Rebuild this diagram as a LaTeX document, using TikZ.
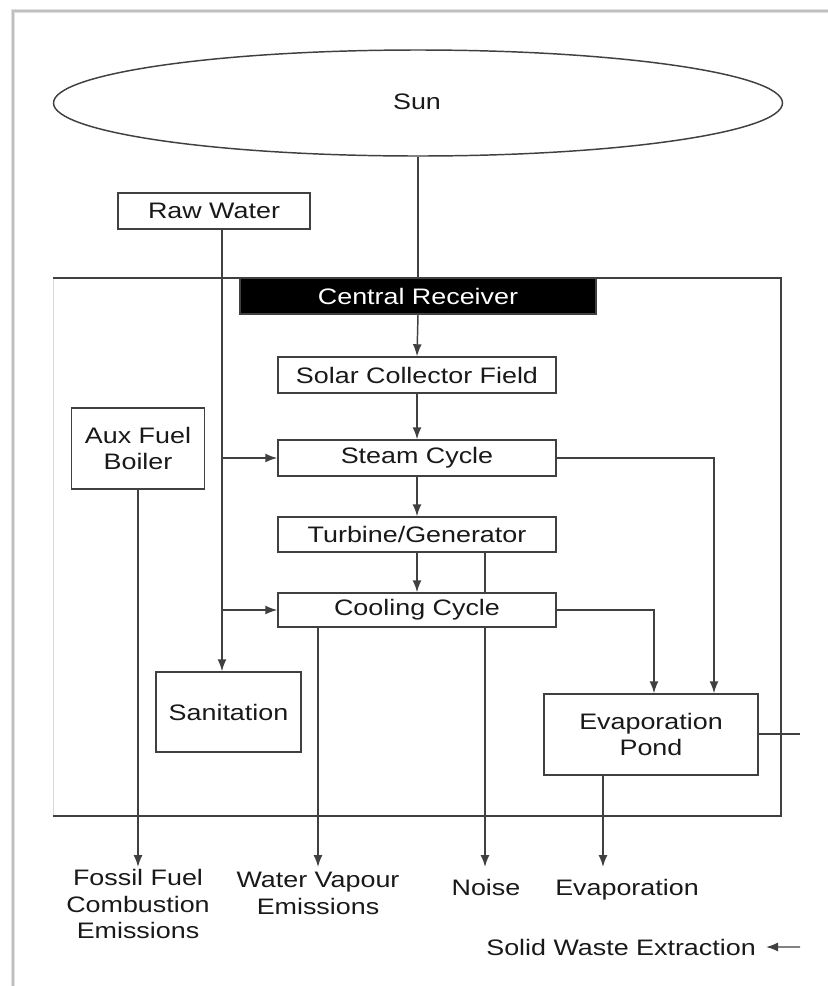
\documentclass[tikz,border=0pt]{standalone}
\usepackage{fontspec}
\setmainfont{Liberation Sans}[FakeStretch=1.2]
\usetikzlibrary{positioning}
\usetikzlibrary{calc}
\usetikzlibrary{arrows.meta,shapes.geometric}

\begin{document}
\begin{tikzpicture}[x=0.75pt,y=-0.75pt,
  every node/.style={font=\fontsize{16.8}{19.9}\selectfont,text=black!90},
  box/.style={draw=black!75,line width=1.1pt,fill=white,inner sep=0pt,align=center},
  flow/.style={draw=black!75,line width=1.1pt},
  arr/.style={flow,-{Latex[length=9pt,width=6.75pt]}},
  outtext/.style={align=center,inner sep=0pt}]

\useasboundingbox (0,0) rectangle (828,986);

% page edge
\draw[gray!25,line width=3pt] (13,986) -- (13,11) -- (828,11);
\draw[gray!50,line width=1pt] (13,986) -- (13,11) -- (828,11);

% plant border
\draw[gray!30,line width=0.6pt] (53,278) -- (53,816);
\draw[flow] (53,278) -- (781,278) -- (781,816) -- (53,816);

% sun
\node[ellipse,draw=black!75,line width=1.1pt,inner sep=0pt,
      minimum width=546.75pt,minimum height=79.5pt] (sun) at (418,103) {};
\node at (417,102) {Sun};

% boxes
\node[box,minimum width=144pt,minimum height=27pt] (raw) at (214,211) {Raw Water};
\node[box,fill=black,text=white,minimum width=267pt,minimum height=27pt] (recv) at (418,296) {Central Receiver};
\node[box,minimum width=208.5pt,minimum height=27pt] (solar) at (417,375) {Solar Collector Field};
\node[box,minimum width=208.5pt,minimum height=27pt] (steam) at (417,458) {Steam Cycle};
\node[box,minimum width=208.5pt,minimum height=26.25pt] (turb) at (417,534.5) {Turbine/Generator};
\node[box,minimum width=208.5pt,minimum height=25.5pt] (cool) at (417,610) {Cooling Cycle};
\node[box,minimum width=99.75pt,minimum height=60.75pt] (aux) at (138,448.5) {Aux Fuel\\Boiler};
\node[box,minimum width=108.75pt,minimum height=60pt] (san) at (228.5,712) {Sanitation};
\node[box,minimum width=160.5pt,minimum height=60.75pt] (pond) at (651,734.5) {Evaporation\\Pond};

% outputs
\node[outtext,anchor=north] (fossil) at (138,869) {Fossil Fuel\\Combustion\\Emissions};
\node[outtext,anchor=north] (vapour) at (318,872) {Water Vapour\\Emissions};
\node[outtext,anchor=base] (noise) at (486,895) {Noise};
\node[outtext,anchor=base] (evap) at (627,895) {Evaporation};
\node[outtext,anchor=base east,inner xsep=7.5pt] (waste) at (766,955) {Solid Waste Extraction};

\coordinate (tips) at (0,867);
\coordinate (tap) at (222,229);
\coordinate (exit) at (800,734);
\coordinate (wastein) at (800,947);

% flows
\draw[flow] (sun.south) -- (recv.north);
\foreach \a/\b in {recv/solar,solar/steam,steam/turb,turb/cool}
  \draw[arr] (\a.south) -- (\b.north);

\draw[arr] (tap) -- (tap |- san.north);
\draw[arr] (tap |- steam.west) -- (steam.west);
\draw[arr] (tap |- cool.west) -- (cool.west);

\draw[arr] (aux.south) -- (aux.south |- tips);
\draw[arr] (cool.south -| vapour) -- (vapour.south |- tips);
\draw[flow] (turb.south -| 485,0) -- (cool.north -| 485,0);
\draw[arr] (cool.south -| 485,0) -- (tips -| 485,0);

\draw[arr] (steam.east) -| ([xshift=47.25pt]pond.north);
\draw[arr] (cool.east) -| ([xshift=2.25pt]pond.north);
\draw[arr] ([xshift=-36pt]pond.south) -- ([xshift=-36pt]pond.south |- tips);
\draw[flow] (pond.east |- exit) -- (exit);
\draw[arr] (wastein) -- (waste.east);

\end{tikzpicture}
\end{document}
